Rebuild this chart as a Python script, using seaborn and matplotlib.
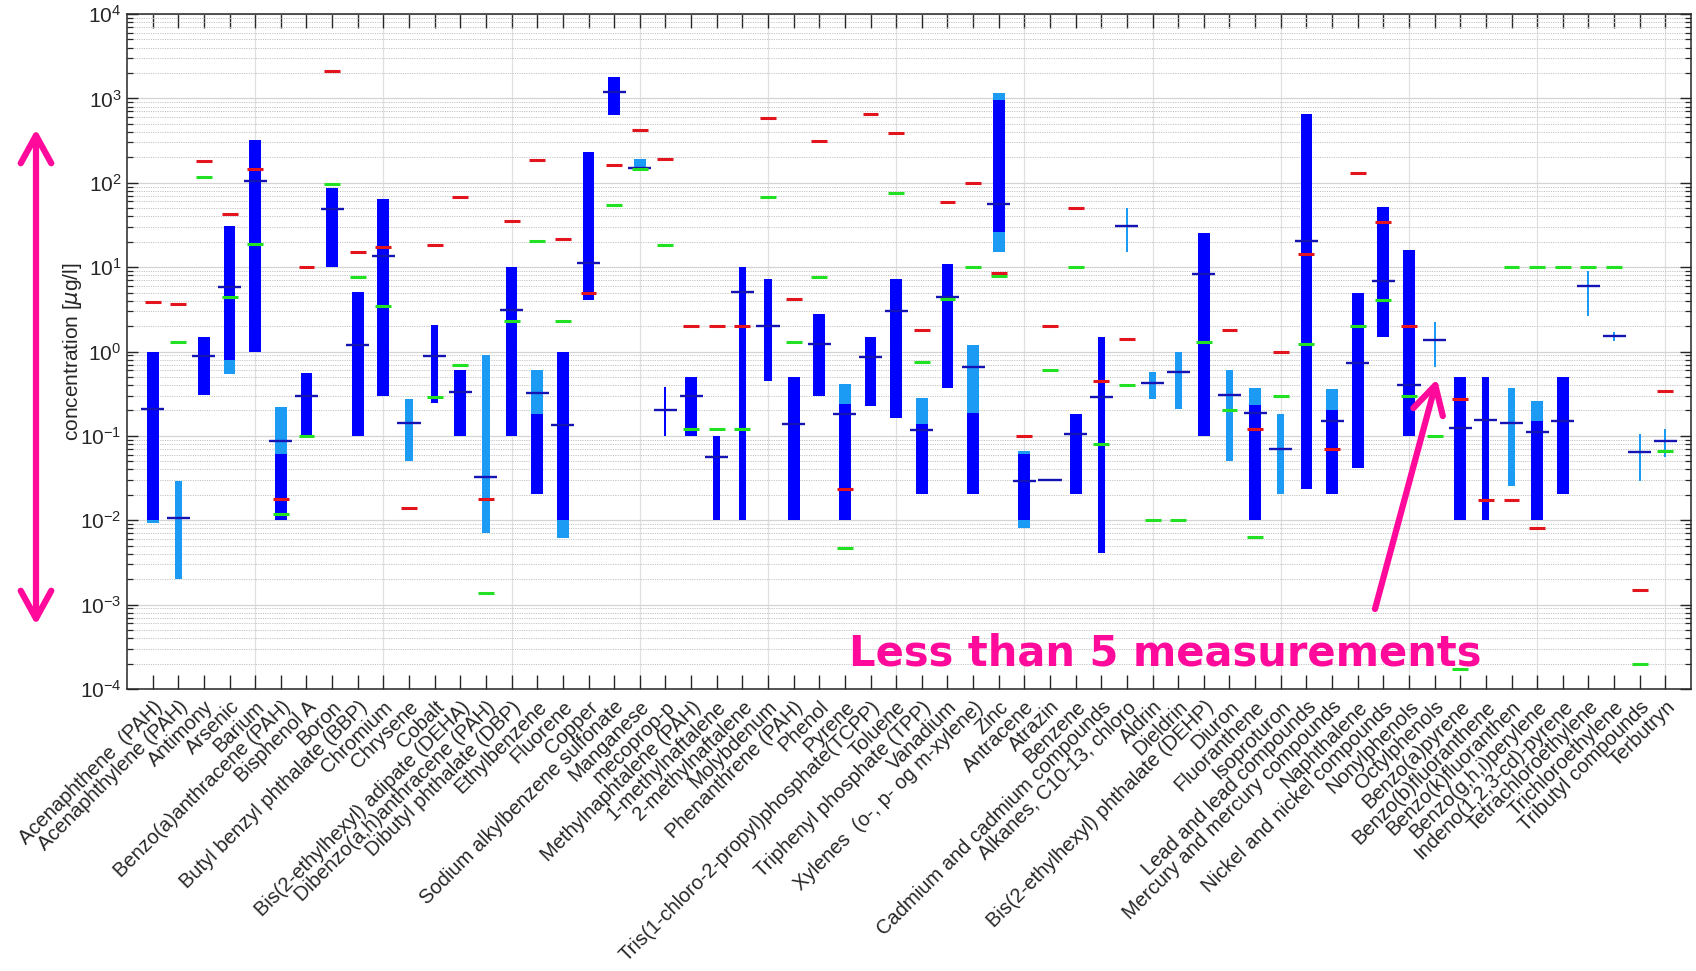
import numpy as np
import matplotlib
matplotlib.use("Agg")
import matplotlib.pyplot as plt
import seaborn as sns
from matplotlib.ticker import LogLocator, NullFormatter, LogFormatterSciNotation

nan = np.nan

categories = [
    "Acenaphthene  (PAH)", "Acenaphthylene (PAH)", "Antimony", "Arsenic", "Barium",
    "Benzo(a)anthracene (PAH)", "Bisphenol A", "Boron", "Butyl benzyl phthalate (BBP)", "Chromium",
    "Chrysene", "Cobalt", "Bis(2-ethylhexyl) adipate (DEHA)", "Dibenzo(a,h)anthracene (PAH)",
    "Dibutyl phthalate (DBP)", "Ethylbenzene", "Fluorene", "Copper", "Sodium alkylbenzene sulfonate",
    "Manganese", "mecoprop-p", "Methylnaphtalene (PAH)", "1-methylnaftalene", "2-methylnaftalene",
    "Molybdenum", "Phenanthrene (PAH)", "Phenol", "Pyrene", "Tris(1-chloro-2-propyl)phosphate(TCPP)",
    "Toluene", "Triphenyl phosphate (TPP)", "Vanadium", "Xylenes  (o-, p- og m-xylene)", "Zinc",
    "Antracene", "Atrazin", "Benzene", "Cadmium and cadmium compounds", "Alkanes, C10-13, chloro",
    "Aldrin", "Dieldrin", "Bis(2-ethylhexyl) phthalate (DEHP)", "Diuron", "Fluoranthene",
    "Isoproturon", "Lead and lead compounds", "Mercury and mercury compounds", "Naphthalene",
    "Nickel and nickel compounds", "Nonylphenols", "Octylphenols", "Benzo(a)pyrene",
    "Benzo(b)fluoranthene", "Benzo(k)fluoranthen", "Benzo(g,h,i)perylene", "Indeno(1,2,3-cd)-pyrene",
    "Tetrachloroethylene", "Trichloroethylene", "Tributyl compounds", "Terbutryn",
]

# light blue range (min - max)
light_min = [0.0092, 0.002, nan, 0.54, nan, 0.01, nan, nan, nan, nan,
             0.05, nan, nan, 0.0071, nan, 0.0203, 0.0061, nan, nan, 139,
             nan, nan, nan, nan, nan, nan, nan, 0.01, nan, nan,
             0.0203, nan, 0.0203, 15.1, 0.008, 0.0291, nan, nan, 15.3, 0.27,
             0.207, nan, 0.05, 0.01, 0.0203, nan, 0.0203, nan, nan, nan,
             0.653, nan, nan, 0.0252, 0.01, nan, 2.65, 1.32, 0.029, 0.0564]
light_max = [1.0, 0.029, nan, 30.7, nan, 0.22, nan, nan, nan, nan,
             0.27, nan, nan, 0.91, nan, 0.60, 1.0, nan, nan, 193,
             nan, nan, nan, nan, nan, nan, nan, 0.41, nan, nan,
             0.278, nan, 1.2, 1172, 0.0668, 0.0300, nan, nan, 50.6, 0.578,
             0.975, nan, 0.61, 0.372, 0.18, nan, 0.364, nan, nan, nan,
             2.21, nan, nan, 0.372, 0.262, nan, 9.08, 1.68, 0.106, 0.12]
# dark blue range
dark_lo = [0.01, nan, 0.307, 0.80, 1.0, 0.01, 0.101, 10, 0.1, 0.296,
           nan, 0.246, 0.1, nan, 0.1, 0.0203, 0.01, 4.06, 637, nan,
           0.1, 0.1, 0.01, 0.01, 0.443, 0.01, 0.30, 0.01, 0.223, 0.161,
           0.0203, 0.368, 0.0203, 25.9, 0.01, nan, 0.0203, 0.00406, nan, nan,
           nan, 0.1, nan, 0.01, nan, 0.0232, 0.0203, 0.0411, 1.48, 0.1,
           nan, 0.01, 0.01, nan, 0.01, 0.0203, nan, nan, nan, nan]
dark_hi = [1.0, nan, 1.50, 30.7, 318, 0.061, 0.557, 86.5, 5.06, 65,
           nan, 2.07, 0.61, nan, 10, 0.18, 1.0, 232, 1816, nan,
           0.378, 0.50, 0.1, 10, 7.28, 0.50, 2.78, 0.24, 1.50, 7.28,
           0.139, 10.8, 0.188, 964, 0.061, nan, 0.18, 1.50, nan, nan,
           nan, 25.2, nan, 0.232, nan, 653, 0.20, 4.99, 51.2, 16.1,
           nan, 0.50, 0.50, nan, 0.151, 0.50, nan, nan, nan, nan]
# bar type: w = many measurements, m = fewer, t = less than 5 (cross), f = single value
bar_kind = ["w", "m", "w", "w", "w", "w", "w", "w", "w", "w",
            "m", "m", "w", "m", "w", "w", "w", "w", "w", "w",
            "t", "w", "m", "m", "m", "w", "w", "w", "w", "w",
            "w", "w", "w", "w", "w", "f", "w", "m", "t", "m",
            "m", "w", "m", "w", "m", "w", "w", "w", "w", "w",
            "t", "w", "m", "m", "w", "w", "t", "t", "t", "t"]
median = [0.21, 0.0105, 0.885, 5.85, 104, 0.0865, 0.30, 49.3, 1.2, 13.7,
          0.144, 0.885, 0.334, 0.0326, 3.14, 0.318, 0.134, 11.2, 1186, 150,
          0.20, 0.30, 0.0557, 5.06, 2.0, 0.139, 1.22, 0.184, 0.853, 3.03,
          0.117, 4.48, 0.653, 56.4, 0.0289, 0.0303, 0.105, 0.292, 31, 0.427,
          0.571, 8.22, 0.307, 0.188, 0.0703, 20.5, 0.151, 0.728, 6.93, 0.405,
          1.37, 0.123, 0.155, 0.144, 0.110, 0.151, 6.0, 1.51, 0.0637, 0.0865]
red_level = [3.87, 3.64, 179, 43, 147, 0.018, 10, 2100, 15.3, 17.3,
             0.014, 18.2, 67, 0.018, 35.5, 184, 21.3, 4.93, 163, 427,
             190, 2.0, 2.0, 2.0, 592, 4.16, 314, 0.0232, 646, 386,
             1.82, 58.5, 100, 8.53, 0.1, 2.0, 50.6, 0.453, 1.41, nan,
             nan, nan, 1.80, 0.1215, 1.0, 14.2, 0.0703, 132, 34.7, 2.0,
             nan, 0.275, 0.0173, 0.0173, 0.0082, nan, nan, nan, 0.00151, 0.342]
green_level = [nan, 1.31, 116, 4.37, 19, 0.012, 0.10, 96, 7.55, 3.47,
               nan, 0.285, 0.70, 0.00139, 2.32, 20.3, 2.32, nan, 54, 145,
               18.4, 0.12, 0.12, 0.12, 68.5, 1.31, 7.74, 0.00465, nan, 74.7,
               0.746, 4.16, 10, 7.9, nan, 0.607, 10, 0.080, 0.405, 0.01,
               0.01, 1.31, 0.203, 0.00637, 0.30, 1.22, nan, 2.0, 4.06, 0.30,
               0.1, 0.000171, nan, 10, 10, 10, 10, 10, 0.0002, 0.0653]

annotation_text = "Less than 5 measurements"
ylabel_text = "concentration [$\\mu$g/l]"

# ---------------------------------------------------------------- style
sns.set_theme(style="ticks")
plt.rcParams["font.family"] = ["Liberation Sans", "DejaVu Sans"]
plt.rcParams["mathtext.fontset"] = "dejavusans"

C_DARK = "#0000FF"
C_LIGHT = "#1C9BF5"
C_MED = "#1414B4"
C_RED = "#E3141E"
C_GREEN = "#22E022"
C_PINK = "#FF0A9B"
C_AX = "#262626"

W = 1696
H = 971
fig = plt.figure(figsize=(W / 100, H / 100), dpi=100)
left, right, top, bottom = 127, 1691, 14, 689
ax = fig.add_axes([left / W, 1 - bottom / H, (right - left) / W, (bottom - top) / H])

x = np.arange(len(categories))
width_map = {"w": 0.46, "m": 0.28, "t": 0.075, "f": 0.9}
widths = np.array([width_map[k] for k in bar_kind])

lmin = np.array(light_min, float)
lmax = np.array(light_max, float)
dlo = np.array(dark_lo, float)
dhi = np.array(dark_hi, float)
med = np.array(median, float)
red = np.array(red_level, float)
grn = np.array(green_level, float)

ax.set_yscale("log")
ax.set_ylim(1e-4, 1e4)
ax.set_xlim(-1, len(categories))

m = ~np.isnan(lmin)
ax.bar(x[m], lmax[m] - lmin[m], bottom=lmin[m], width=widths[m], color=C_LIGHT,
       linewidth=0, zorder=2)
m = ~np.isnan(dlo)
ax.bar(x[m], dhi[m] - dlo[m], bottom=dlo[m], width=widths[m], color=C_DARK,
       linewidth=0, zorder=3)

m = ~np.isnan(med)
ax.hlines(med[m], x[m] - 0.45, x[m] + 0.45, color=C_MED, lw=1.7, zorder=4)
m = ~np.isnan(red)
ax.hlines(red[m], x[m] - 0.31, x[m] + 0.31, color=C_RED, lw=2.2, zorder=5)
m = ~np.isnan(grn)
ax.hlines(grn[m], x[m] - 0.31, x[m] + 0.31, color=C_GREEN, lw=2.2, zorder=5)

# grid
ax.yaxis.set_major_locator(LogLocator(base=10, numticks=20))
ax.yaxis.set_minor_locator(LogLocator(base=10, subs=np.arange(2, 10), numticks=200))
ax.yaxis.set_minor_formatter(NullFormatter())
ax.yaxis.set_major_formatter(LogFormatterSciNotation())
ax.grid(False)
ax.grid(True, axis="y", which="major", color="#d4d4d4", lw=0.9, ls="-", zorder=0)
ax.grid(True, axis="y", which="minor", color="#c4c4c4", lw=0.7, ls=(0, (1.2, 1.2)), zorder=0)
for xv in x[4::5]:
    ax.axvline(xv, color="#e0e0e0", lw=0.9, zorder=0)
ax.set_axisbelow(True)

ax.set_xticks(x)
ax.set_xticklabels(categories, rotation=45, ha="right", va="top",
                   rotation_mode="anchor", fontsize=14.5, color=C_AX)
ax.tick_params(axis="x", which="major", direction="in", length=10, width=1,
               top=True, bottom=True, pad=6, colors=C_AX)
ax.tick_params(axis="y", which="major", direction="in", length=8, width=1,
               left=True, right=True, labelsize=15, colors=C_AX, pad=4)
ax.tick_params(axis="y", which="minor", direction="in", length=4.5, width=0.9,
               left=True, right=True, colors=C_AX)
for s in ax.spines.values():
    s.set_color(C_AX)
    s.set_linewidth(1.1)
    s.set_visible(True)

ax.set_ylabel(ylabel_text, fontsize=15, color=C_AX, labelpad=-3)

# annotations
ax.annotate("", xy=(36, H - 129), xytext=(36, H - 625), xycoords="figure pixels",
            textcoords="figure pixels",
            arrowprops=dict(arrowstyle="<->,head_length=1.0,head_width=0.55",
                            color=C_PINK, lw=4.5, mutation_scale=20,
                            shrinkA=0, shrinkB=0))
ax.annotate("", xy=(1437, H - 379), xytext=(1375, H - 609), xycoords="figure pixels",
            textcoords="figure pixels",
            arrowprops=dict(arrowstyle="->,head_length=1.0,head_width=0.55",
                            color=C_PINK, lw=4.5, mutation_scale=20,
                            shrinkA=0, shrinkB=0))
fig.text(1165 / W, 1 - 665 / H, annotation_text, color=C_PINK, fontsize=30,
         fontweight="bold", family="DejaVu Sans", ha="center", va="baseline")

fig.savefig("out.png", dpi=100)
